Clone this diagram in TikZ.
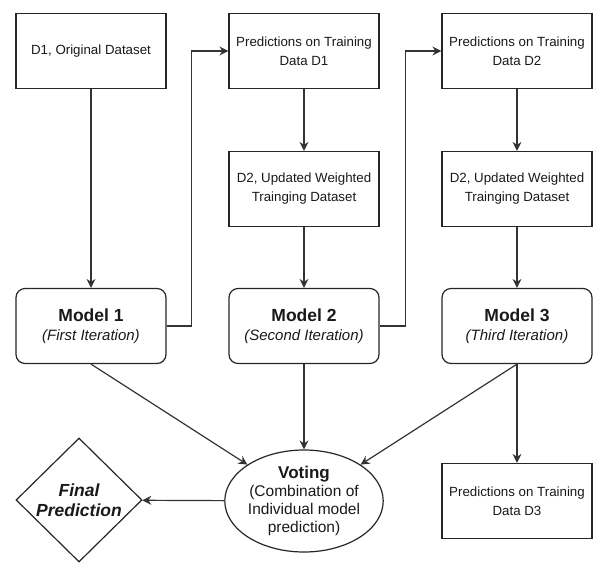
\documentclass[tikz,border=0pt]{standalone}
\usepackage{fontspec}
\setmainfont{Liberation Sans}
\usetikzlibrary{arrows.meta,shapes.geometric}
\begin{document}
\begin{tikzpicture}[x=1pt,y=-1pt,
  box/.style={draw=black!85, line width=1.2pt, minimum width=150pt, minimum height=75pt,
    inner sep=0pt, align=center, text=black!90, font=\fontsize{13.3}{19}\selectfont},
  model/.style={box, rounded corners=9pt, font=\fontsize{15}{19}\selectfont},
  vote/.style={ellipse, draw=black!85, line width=1.2pt, minimum width=150pt, minimum height=102pt,
    inner sep=0pt, align=center, text=black!90, font=\fontsize{15.5}{18}\selectfont},
  final/.style={diamond, aspect=1, draw=black!85, line width=1.2pt, minimum width=126pt, minimum height=124pt,
    inner sep=0pt, align=center, text=black!90, font=\fontsize{17.5}{20}\selectfont\bfseries\itshape},
  arr/.style={draw=black!80, line width=1.2pt, -{Stealth[length=9pt,width=9pt,inset=3pt]}},
]
\useasboundingbox (0,0) rectangle (594,563);
\node[box] (d1) at (91,51) {D1, Original Dataset};
\node[box] (p1) at (304,51) {Predictions on Training\\Data D1};
\node[box] (w1) at (304,189) {D2, Updated Weighted\\Trainging Dataset};
\node[box] (p2) at (517,51) {Predictions on Training\\Data D2};
\node[box] (w2) at (517,189) {D2, Updated Weighted\\Trainging Dataset};
\node[model] (m1) at (91,326) {{\fontsize{17.5}{19}\selectfont\bfseries Model 1}\\\textit{(First Iteration)}};
\node[model] (m2) at (304,326) {{\fontsize{17.5}{19}\selectfont\bfseries Model 2}\\\textit{(Second Iteration)}};
\node[model] (m3) at (517,326) {{\fontsize{17.5}{19}\selectfont\bfseries Model 3}\\\textit{(Third Iteration)}};
\node[vote] (v) at (304,501) {{\fontsize{17}{18}\selectfont\bfseries Voting}\\(Combination of\\Individual model\\prediction)};
\node[final] (f) at (79,500) {Final\\Prediction};
\node[box] (p3) at (517,501) {Predictions on Training\\Data D3};

\draw[arr] (d1) -- (m1);
\draw[arr] (p1) -- (w1);
\draw[arr] (w1) -- (m2);
\draw[arr] (p2) -- (w2);
\draw[arr] (w2) -- (m3);
\draw[arr] (m1.east) -- ++(25,0) |- (p1.west);
\draw[arr] (m2.east) -- ++(26,0) |- (p2.west);
\draw[arr] (m1.south) -- (v);
\draw[arr] (m2) -- (v);
\draw[arr] (m3.south) -- (v);
\draw[arr] (m3) -- (p3);
\draw[arr] (v) -- (f);
\end{tikzpicture}
\end{document}
